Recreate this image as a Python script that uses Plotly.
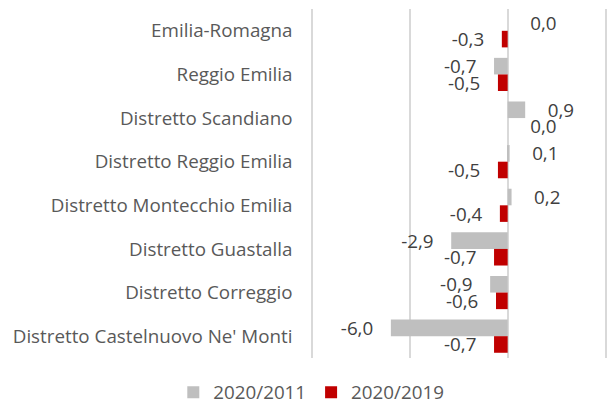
import plotly.graph_objects as go

# ── Data ─────────────────────────────────────────────────────────────────────
CATEGORIES = [
    "Emilia-Romagna",
    "Reggio Emilia",
    "Distretto Scandiano",
    "Distretto Reggio Emilia",
    "Distretto Montecchio Emilia",
    "Distretto Guastalla",
    "Distretto Correggio",
    "Distretto Castelnuovo Ne' Monti",
]
VAR_2020_2011 = [0.0, -0.7, 0.9, 0.1, 0.2, -2.9, -0.9, -6.0]
VAR_2020_2019 = [-0.3, -0.5, 0.0, -0.5, -0.4, -0.7, -0.6, -0.7]
SERIES_NAMES = ["2020/2011", "2020/2019"]

# ── Colours ──────────────────────────────────────────────────────────────────
GREY = "#BFBFBF"
RED = "#C00000"
GRID = "#D9D9D9"
LABEL = "#595959"
VALUE = "#404040"
FONT = "Open Sans, Carlito, Calibri, sans-serif"
SIZE = 18.8
NBSP = "\u00a0"


def fmt(v):
    s = f"{v:.1f}".replace(".", ",")
    return s + NBSP * 3 if v < 0 else NBSP * 4 + s


fig = go.Figure()
for name, vals, color in zip(SERIES_NAMES, [VAR_2020_2011, VAR_2020_2019], [GREY, RED]):
    fig.add_trace(go.Bar(
        y=CATEGORIES, x=vals, name=name, orientation="h",
        marker=dict(color=color, line=dict(width=0)),
        text=[fmt(v) for v in vals], textposition="outside",
        textfont=dict(family=FONT, size=SIZE, color=VALUE),
        constraintext="none", cliponaxis=False,
    ))

fig.update_layout(
    width=608, height=405,
    margin=dict(l=313, r=1, t=9, b=47),
    paper_bgcolor="white", plot_bgcolor="white",
    barmode="group", bargap=0.24, bargroupgap=0,
    font=dict(family=FONT, color=LABEL, size=SIZE),
    xaxis=dict(range=[-10, 5], tickvals=[-10, -5, 0, 5], showticklabels=False,
               showgrid=True, gridcolor=GRID, gridwidth=1.5,
               zeroline=True, zerolinecolor=GRID, zerolinewidth=1.5, fixedrange=True),
    # axis line + mirror give the grid lines at -10 and 5 (plot edges)
    yaxis=dict(autorange="reversed", showgrid=False, ticks="",
               showline=True, mirror=True, linecolor=GRID, linewidth=1.5,
               ticklabelstandoff=15, tickfont=dict(size=SIZE, color=LABEL),
               fixedrange=True),
    legend=dict(orientation="h", xref="container", x=0.512, xanchor="center",
                yref="container", y=0.078, yanchor="top",
                font=dict(size=SIZE, color=LABEL), itemwidth=30),
    showlegend=True,
)

fig.write_html("out.html", config={"displayModeBar": False},
               post_script="document.body.style.margin='0';")
